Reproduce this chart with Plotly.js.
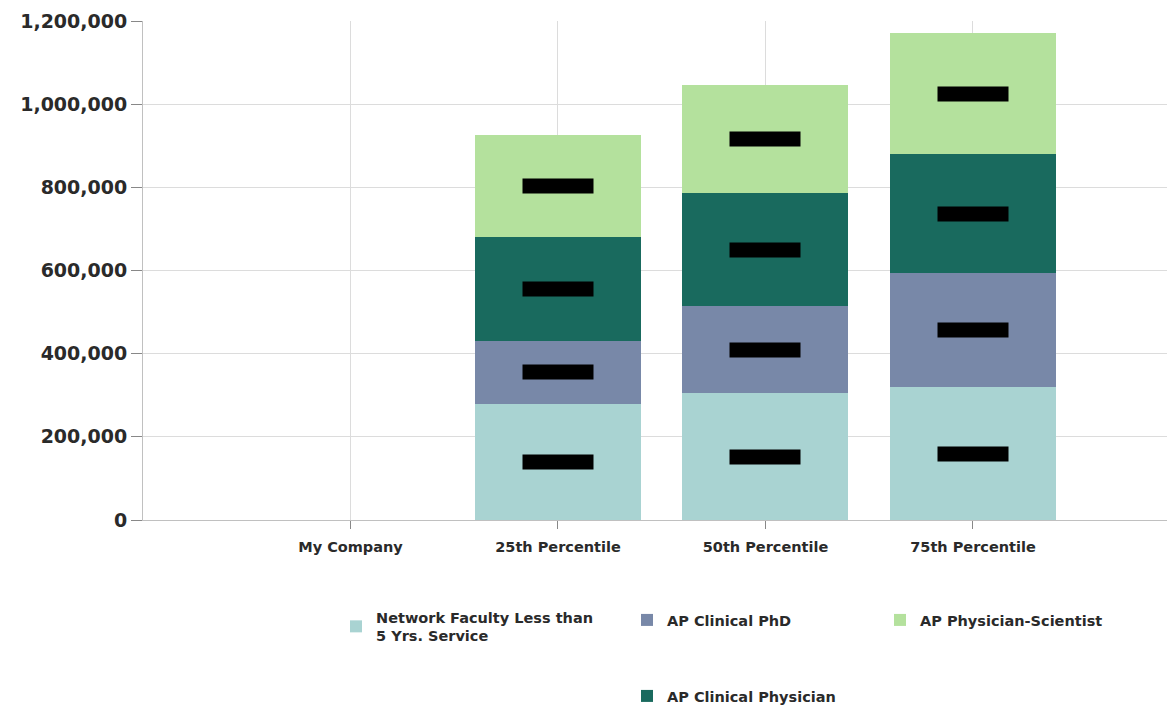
<!DOCTYPE html>
<html>
<head>
<meta charset="utf-8">
<script src="https://cdn.plot.ly/plotly-3.0.1.min.js"></script>
<style>html,body{margin:0;padding:0;background:#fff;}#chart{width:1167px;height:706px;}</style>
</head>
<body>
<div id="chart"></div>
<script>
const categories = ["My Company", "25th Percentile", "50th Percentile", "75th Percentile"];
const seriesNames = ["Network Faculty Less than<br>5 Yrs. Service", "AP Clinical PhD", "AP Clinical Physician", "AP Physician-Scientist"];
const networkFaculty = [null, 279000, 305000, 319000];
const clinicalPhD = [null, 151500, 210000, 274000];
const clinicalPhysician = [null, 250000, 271000, 286000];
const physicianScientist = [null, 245500, 260000, 292000];
const yTicks = [0, 200000, 400000, 600000, 800000, 1000000, 1200000];

const colors = ["#a9d3d2", "#7888a8", "#196a5e", "#b4e19d"];
const series = [networkFaculty, clinicalPhD, clinicalPhysician, physicianScientist];
const legendIds = ["legend", "legend2", "legend4", "legend3"];
const FONT = "DejaVu Sans, Verdana, sans-serif";

const traces = series.map((vals, i) => ({
  type: "bar",
  name: seriesNames[i],
  x: categories,
  y: vals,
  width: 0.8,
  marker: {color: colors[i], line: {width: 0}},
  legend: legendIds[i],
  hoverinfo: "x+y+name"
}));

// value labels (black boxes) centred in each segment
const annotations = [];
categories.forEach((c, ci) => {
  let base = 0;
  series.forEach((vals) => {
    const v = vals[ci];
    if (v == null) return;
    annotations.push({
      x: c, y: base + v / 2, xref: "x", yref: "y",
      text: v.toLocaleString("en-US"),
      showarrow: false,
      font: {family: FONT, size: 11, color: "#000", weight: 700},
      bgcolor: "#000",
      width: 68, height: 12
    });
    base += v;
  });
});

const legendBase = {
  orientation: "v", xref: "container", yref: "container",
  xanchor: "left", yanchor: "top",
  bgcolor: "rgba(0,0,0,0)", borderwidth: 0,
  font: {family: FONT, size: 14.5, color: "#2a2a2a", weight: 700},
  itemclick: false, itemdoubleclick: false
};

const layout = {
  width: 1167, height: 706,
  margin: {l: 143, r: 0, t: 21, b: 186, autoexpand: false},
  paper_bgcolor: "#fff", plot_bgcolor: "#fff",
  barmode: "stack",
  showlegend: true,
  font: {family: FONT, color: "#2a2a2a"},
  xaxis: {
    type: "category",
    categoryorder: "array", categoryarray: categories,
    range: [-1, 3.935],
    automargin: false,
    tickangle: 0,
    showgrid: true, gridcolor: "#dcdcdc", gridwidth: 1,
    showline: true, linecolor: "#c0c0c0", linewidth: 1,
    ticks: "outside", ticklen: 8, tickcolor: "#888", tickwidth: 1,
    ticklabelstandoff: 6,
    tickfont: {family: FONT, size: 14.5, color: "#2a2a2a", weight: 700},
    zeroline: false, fixedrange: true
  },
  yaxis: {
    range: [0, 1200000],
    automargin: false,
    tickvals: yTicks,
    tickformat: ",d",
    showgrid: true, gridcolor: "#dcdcdc", gridwidth: 1,
    showline: true, linecolor: "#c0c0c0", linewidth: 1,
    ticks: "outside", ticklen: 11, tickcolor: "#888", tickwidth: 1,
    tickfont: {family: FONT, size: 19, color: "#2a2a2a", weight: 700},
    zeroline: false, fixedrange: true
  },
  legend: Object.assign({}, legendBase, {x: 336 / 1167, y: 1 - 601 / 706}),
  legend2: Object.assign({}, legendBase, {x: 627 / 1167, y: 1 - 604 / 706}),
  legend3: Object.assign({}, legendBase, {x: 880 / 1167, y: 1 - 604 / 706}),
  legend4: Object.assign({}, legendBase, {x: 627 / 1167, y: 1 - 680 / 706}),
  annotations: annotations
};

Plotly.newPlot("chart", traces, layout, {displayModeBar: false});
</script>
</body>
</html>
